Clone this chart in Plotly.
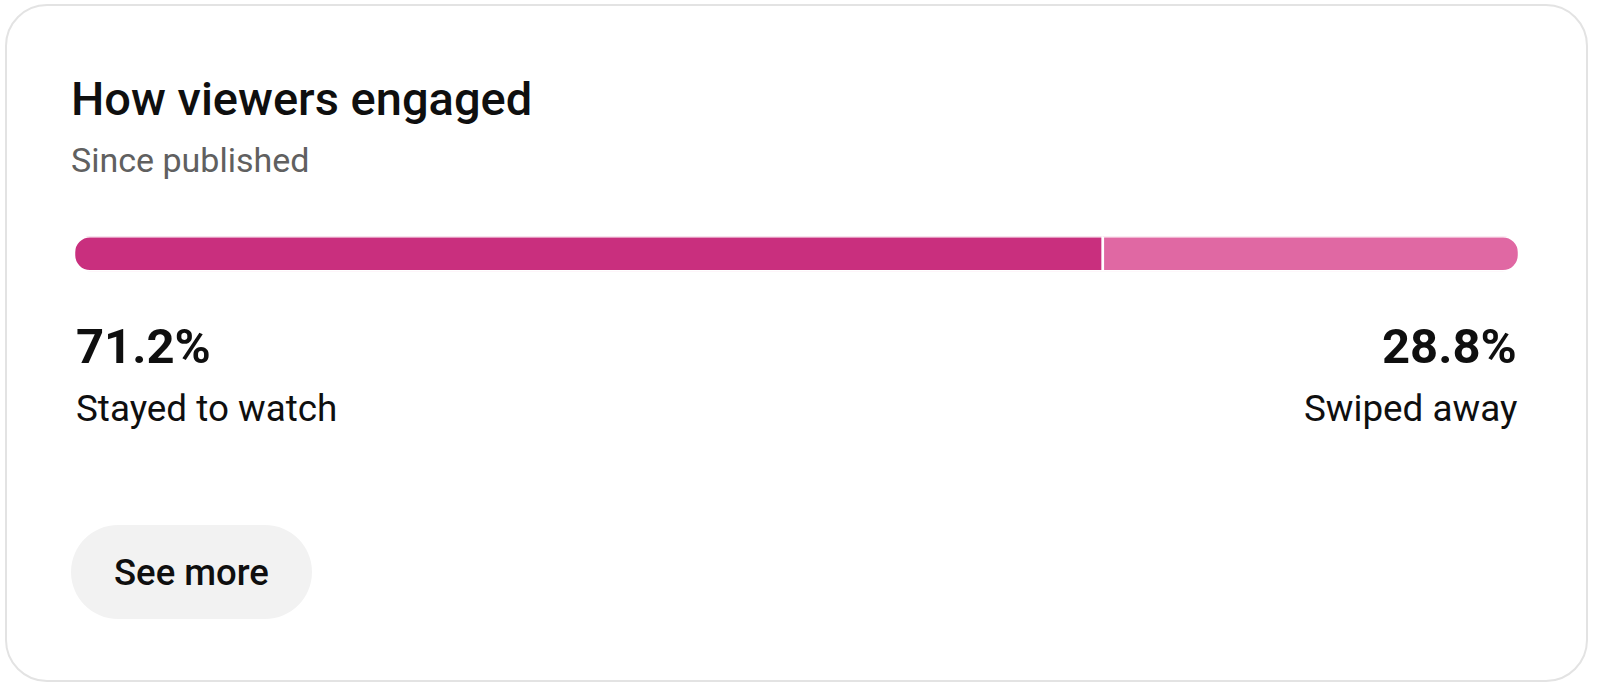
import plotly.graph_objects as go

title = "How viewers engaged"
subtitle = "Since published"
segments = ["Stayed to watch", "Swiped away"]
shares = [71.2, 28.8]
colors = ["#c92f7e", "#e068a3"]
button_label = "See more"

W, H = 1598, 689
FONT = "Roboto"


def rounded_path(x0, y0, x1, y1, r):
    # rounded rectangle as cubic curves (plotly paths have no arc command)
    k = 0.4477 * r
    return (
        f"M{x0 + r},{y0} L{x1 - r},{y0} C{x1 - k},{y0} {x1},{y0 + k} {x1},{y0 + r} "
        f"L{x1},{y1 - r} C{x1},{y1 - k} {x1 - k},{y1} {x1 - r},{y1} "
        f"L{x0 + r},{y1} C{x0 + k},{y1} {x0},{y1 - k} {x0},{y1 - r} "
        f"L{x0},{y0 + r} C{x0},{y0 + k} {x0 + k},{y0} {x0 + r},{y0} Z"
    )


fig = go.Figure()

# empty trace so the pixel-space axes x/y exist for shapes and text
fig.add_trace(go.Scatter(x=[], y=[], showlegend=False, hoverinfo="skip"))

# engagement bar: first share grows left from 0, second grows right,
# so relative stacking rounds only the two outer ends
fig.add_trace(
    go.Bar(
        x=[-shares[0]], y=[""], orientation="h", width=1,
        marker=dict(color=colors[0], line=dict(color="white", width=2.5)),
        xaxis="x2", yaxis="y2", name=segments[0], showlegend=False,
    )
)
fig.add_trace(
    go.Bar(
        x=[shares[1]], y=[""], orientation="h", width=1,
        marker=dict(color=colors[1], line=dict(color="white", width=2.5)),
        xaxis="x2", yaxis="y2", name=segments[1], showlegend=False,
    )
)

# card and button
fig.add_shape(type="path", path=rounded_path(6, 5, 1587, 681, 41),
              line=dict(color="#e3e3e3", width=2), fillcolor="white",
              xref="x", yref="y", layer="below")
fig.add_shape(type="path", path=rounded_path(71, 525, 312, 619, 47),
              line=dict(width=0), fillcolor="#f2f2f2",
              xref="x", yref="y", layer="below")


def text(x, y, s, size, color="#0f0f0f", weight=400, anchor="left"):
    fig.add_annotation(x=x, y=y, text=s, showarrow=False, xref="x", yref="y",
                       xanchor=anchor, yanchor="middle",
                       font=dict(family=FONT, size=size, color=color, weight=weight))


text(69, 98, title, 47, weight=500)
text(69, 160, subtitle, 34, color="#606060")
text(74, 346, f"{shares[0]:.1f}%", 49, weight=700)
text(74, 408, segments[0], 36.8)
text(1519, 346, f"{shares[1]:.1f}%", 49, weight=700, anchor="right")
text(1519, 408, segments[1], 36.8, anchor="right")
text(191, 572, button_label, 36.5, weight=500, anchor="center")

fig.update_layout(
    width=W, height=H,
    margin=dict(l=0, r=0, t=0, b=0),
    paper_bgcolor="white", plot_bgcolor="white",
    barmode="relative", barcornerradius=16,
    hovermode=False,
    xaxis=dict(range=[0, W], visible=False, domain=[0, 1]),
    yaxis=dict(range=[H, 0], visible=False, domain=[0, 1]),
    xaxis2=dict(range=[-shares[0], shares[1]], domain=[74 / W, 1519 / W],
                visible=False, anchor="y2", fixedrange=True),
    yaxis2=dict(range=[-0.5, 0.5], domain=[1 - 271.25 / H, 1 - 236.25 / H],
                visible=False, anchor="x2", fixedrange=True),
)

fig.write_html("out.html", config={"displayModeBar": False},
               post_script="document.body.style.margin='0';")
